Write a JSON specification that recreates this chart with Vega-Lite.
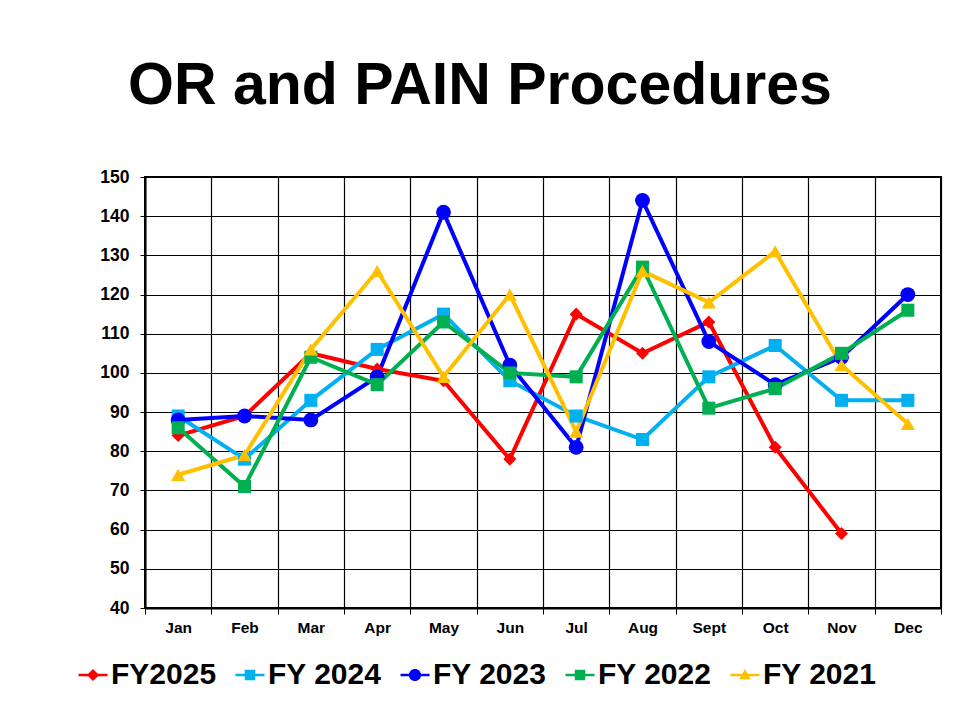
{
  "$schema": "https://vega.github.io/schema/vega-lite/v6.json",
  "width": 796,
  "height": 431,
  "autosize": {"type": "none"},
  "padding": {"left": 145, "top": 177, "right": 18, "bottom": 111},
  "background": "white",
  "title": {
    "text": "OR and PAIN Procedures",
    "font": "Liberation Sans",
    "fontSize": 59,
    "fontWeight": "bold",
    "color": "black",
    "anchor": "middle",
    "dx": -63,
    "offset": 52
  },
  "config": {
    "view": {"stroke": "black", "strokeWidth": 2},
    "axis": {
      "labelFont": "Liberation Sans",
      "labelFontWeight": "bold",
      "labelColor": "black",
      "domainColor": "black",
      "tickColor": "black",
      "gridColor": "black",
      "gridOpacity": 1,
      "gridWidth": 1.2,
      "domainWidth": 2,
      "title": null
    }
  },
  "data": {
    "values": [
      {"month": "Jan", "series": "FY2025", "value": 84},
      {"month": "Feb", "series": "FY2025", "value": 89},
      {"month": "Mar", "series": "FY2025", "value": 105},
      {"month": "Apr", "series": "FY2025", "value": 101},
      {"month": "May", "series": "FY2025", "value": 98},
      {"month": "Jun", "series": "FY2025", "value": 78},
      {"month": "Jul", "series": "FY2025", "value": 115},
      {"month": "Aug", "series": "FY2025", "value": 105},
      {"month": "Sept", "series": "FY2025", "value": 113},
      {"month": "Oct", "series": "FY2025", "value": 81},
      {"month": "Nov", "series": "FY2025", "value": 59},
      {"month": "Jan", "series": "FY 2024", "value": 89},
      {"month": "Feb", "series": "FY 2024", "value": 78},
      {"month": "Mar", "series": "FY 2024", "value": 93},
      {"month": "Apr", "series": "FY 2024", "value": 106},
      {"month": "May", "series": "FY 2024", "value": 115},
      {"month": "Jun", "series": "FY 2024", "value": 98},
      {"month": "Jul", "series": "FY 2024", "value": 89},
      {"month": "Aug", "series": "FY 2024", "value": 83},
      {"month": "Sept", "series": "FY 2024", "value": 99},
      {"month": "Oct", "series": "FY 2024", "value": 107},
      {"month": "Nov", "series": "FY 2024", "value": 93},
      {"month": "Dec", "series": "FY 2024", "value": 93},
      {"month": "Jan", "series": "FY 2023", "value": 88},
      {"month": "Feb", "series": "FY 2023", "value": 89},
      {"month": "Mar", "series": "FY 2023", "value": 88},
      {"month": "Apr", "series": "FY 2023", "value": 99},
      {"month": "May", "series": "FY 2023", "value": 141},
      {"month": "Jun", "series": "FY 2023", "value": 102},
      {"month": "Jul", "series": "FY 2023", "value": 81},
      {"month": "Aug", "series": "FY 2023", "value": 144},
      {"month": "Sept", "series": "FY 2023", "value": 108},
      {"month": "Oct", "series": "FY 2023", "value": 97},
      {"month": "Nov", "series": "FY 2023", "value": 104},
      {"month": "Dec", "series": "FY 2023", "value": 120},
      {"month": "Jan", "series": "FY 2022", "value": 86},
      {"month": "Feb", "series": "FY 2022", "value": 71},
      {"month": "Mar", "series": "FY 2022", "value": 104},
      {"month": "Apr", "series": "FY 2022", "value": 97},
      {"month": "May", "series": "FY 2022", "value": 113},
      {"month": "Jun", "series": "FY 2022", "value": 100},
      {"month": "Jul", "series": "FY 2022", "value": 99},
      {"month": "Aug", "series": "FY 2022", "value": 127},
      {"month": "Sept", "series": "FY 2022", "value": 91},
      {"month": "Oct", "series": "FY 2022", "value": 96},
      {"month": "Nov", "series": "FY 2022", "value": 105},
      {"month": "Dec", "series": "FY 2022", "value": 116},
      {"month": "Jan", "series": "FY 2021", "value": 74},
      {"month": "Feb", "series": "FY 2021", "value": 79},
      {"month": "Mar", "series": "FY 2021", "value": 106},
      {"month": "Apr", "series": "FY 2021", "value": 126},
      {"month": "May", "series": "FY 2021", "value": 99},
      {"month": "Jun", "series": "FY 2021", "value": 120},
      {"month": "Jul", "series": "FY 2021", "value": 85},
      {"month": "Aug", "series": "FY 2021", "value": 126},
      {"month": "Sept", "series": "FY 2021", "value": 118},
      {"month": "Oct", "series": "FY 2021", "value": 131},
      {"month": "Nov", "series": "FY 2021", "value": 102},
      {"month": "Dec", "series": "FY 2021", "value": 87}
    ]
  },
  "encoding": {
    "x": {
      "field": "month",
      "type": "ordinal",
      "sort": ["Jan", "Feb", "Mar", "Apr", "May", "Jun", "Jul", "Aug", "Sept", "Oct", "Nov", "Dec"],
      "bandPosition": 0.5,
      "scale": {"type": "band", "paddingInner": 0, "paddingOuter": 0},
      "axis": {
        "labelAngle": 0,
        "labelFontSize": 15.5,
        "labelPadding": 6,
        "tickBand": "extent",
        "tickSize": 6,
        "grid": true,
        "domain": true
      }
    },
    "y": {
      "field": "value",
      "type": "quantitative",
      "scale": {"domain": [40, 150], "nice": false, "zero": false},
      "axis": {
        "values": [40, 50, 60, 70, 80, 90, 100, 110, 120, 130, 140, 150],
        "labelFontSize": 17.5,
        "labelPadding": 11,
        "tickSize": 5,
        "grid": true
      }
    },
    "color": {
      "field": "series",
      "type": "nominal",
      "sort": ["FY2025", "FY 2024", "FY 2023", "FY 2022", "FY 2021"],
      "scale": {
        "domain": ["FY2025", "FY 2024", "FY 2023", "FY 2022", "FY 2021"],
        "range": ["#FF0000", "#00B0F0", "#0000FF", "#00B050", "#FFC000"]
      },
      "legend": {
        "title": null,
        "orient": "none",
        "direction": "horizontal",
        "legendX": -67,
        "legendY": 483,
        "labelFont": "Liberation Sans",
        "labelFontSize": 30,
        "labelFontWeight": "bold",
        "labelColor": "black",
        "labelOffset": 3,
        "labelLimit": 300,
        "columnPadding": 18,
        "symbolSize": 841,
        "symbolStrokeWidth": 0,
        "symbolOpacity": 1
      }
    }
  },
  "layer": [
    {
      "mark": {"type": "line", "strokeWidth": 4},
      "encoding": {}
    },
    {
      "mark": {"type": "point", "filled": true, "size": 0, "opacity": 1},
      "encoding": {
        "shape": {
          "field": "series",
          "type": "nominal",
          "sort": ["FY2025", "FY 2024", "FY 2023", "FY 2022", "FY 2021"],
          "scale": {
            "domain": ["FY2025", "FY 2024", "FY 2023", "FY 2022", "FY 2021"],
            "range": [
              "M-1,-0.08H1V0.08H-1ZM0,-0.42L0.42,0L0,0.42L-0.42,0Z",
              "M-1,-0.08H1V0.08H-1ZM-0.36,-0.36H0.36V0.36H-0.36Z",
              "M-1,-0.08H1V0.08H-1ZM-0.42,0A0.42,0.42 0 1,1 0.42,0A0.42,0.42 0 1,1 -0.42,0Z",
              "M-1,-0.08H1V0.08H-1ZM-0.36,-0.36H0.36V0.36H-0.36Z",
              "M-1,-0.08H1V0.08H-1ZM0,-0.42L0.4,0.3H-0.4Z"
            ]
          }
        }
      }
    },
    {
      "transform": [{"filter": "datum.series === 'FY2025'"}],
      "mark": {"type": "point", "filled": true, "opacity": 1, "size": 170, "shape": "diamond"},
      "encoding": {}
    },
    {
      "transform": [{"filter": "datum.series === 'FY 2024'"}],
      "mark": {"type": "point", "filled": true, "opacity": 1, "size": 170, "shape": "square"},
      "encoding": {}
    },
    {
      "transform": [{"filter": "datum.series === 'FY 2023'"}],
      "mark": {"type": "point", "filled": true, "opacity": 1, "size": 220, "shape": "circle"},
      "encoding": {}
    },
    {
      "transform": [{"filter": "datum.series === 'FY 2022'"}],
      "mark": {"type": "point", "filled": true, "opacity": 1, "size": 170, "shape": "square"},
      "encoding": {}
    },
    {
      "transform": [{"filter": "datum.series === 'FY 2021'"}],
      "mark": {"type": "point", "filled": true, "opacity": 1, "size": 200, "shape": "triangle-up"},
      "encoding": {}
    }
  ]
}
